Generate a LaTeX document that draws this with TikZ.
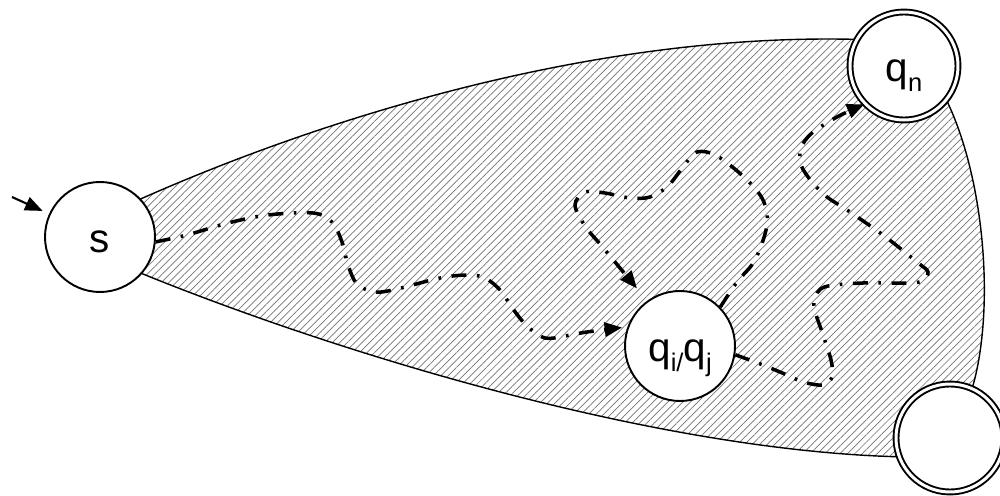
\documentclass[tikz,border=0pt]{standalone}
\usepackage{fontspec}
\setmainfont{Liberation Sans}
\usetikzlibrary{arrows.meta,patterns.meta,backgrounds}
\newcommand{\lowidx}[1]{\raisebox{-5.5pt}{\fontsize{14.5}{15}\selectfont #1}}

\begin{document}
\begin{tikzpicture}[
    x=0.02cm, y=-0.02cm,
    >={Triangle[length=10pt,width=8pt]},
    state/.style={draw, circle, fill=white, line width=1.1pt, minimum size=2.2cm, inner sep=0pt,
      text height=18pt, text depth=0pt, font=\fontsize{23}{27}\selectfont},
    accepting/.style={state, double, double distance=1.7pt, minimum size=2.16cm},
    run/.style={->, line width=2pt, dash pattern=on 8.5pt off 6pt on 1.5pt off 6pt},
    area/.style={draw, line width=0.8pt, pattern={Lines[angle=45,distance=3pt,line width=0.4pt]},
      pattern color=black!55},
  ]
  \useasboundingbox (0,0) rectangle (1000,496);
  \node[state] (s) at (100,237) {s};
  \node[state] (qij) at (680,346) {q\lowidx{i/}q\lowidx{j}};
  \node[accepting] (qn) at (904,66) {q\lowidx{n}};
  \node[accepting] (qf) at (950,438) {};
  \coordinate (init) at (12,197);

  % hatched region between the states
  \begin{pgfonlayer}{background}
    \path[area] (s.43) .. controls (330,115) and (600,33) .. (qn.151) -- (qn.-39)
      .. controls (985,180) and (995,310) .. (qf.66) -- (qf.200)
      .. controls (650,450) and (330,350) .. (s.-41) -- cycle;
  \end{pgfonlayer}

  \draw[->, line width=1.2pt, shorten >=4pt] (init) -- (s);
  % runs through the automaton
  \draw[run, shorten >=3pt] plot[smooth, tension=0.55] coordinates {(s.-5) (187,235) (228,223)
    (268,215) (313,213) (332,222) (342,242) (348,265) (357,284) (375,292) (397,289) (440,278)
    (468,275) (485,278) (500,290) (513,309) (527,326) (545,338) (565,336) (587,332) (qij.160)};
  \draw[run, shorten >=9pt] plot[smooth, tension=0.55] coordinates {(qij.44) (737,282) (755,260)
    (767,225) (763,200) (745,178) (717,156) (697,152) (683,167) (668,186) (650,197) (630,198)
    (605,193) (585,192) (575,205) (585,226) (600,244) (615,262) (qij.126)};
  \draw[run] plot[smooth, tension=0.55] coordinates {(qij.-9) (763,365) (787,375) (803,382)
    (823,385) (832,377) (831,360) (822,332) (814,307) (817,293) (828,286) (863,283) (907,283)
    (922,281) (928,272) (917,262) (883,235) (847,210) (827,197) (812,182) (801,165) (801,148)
    (812,133) (837,117) (qn.224)};
\end{tikzpicture}
\end{document}
